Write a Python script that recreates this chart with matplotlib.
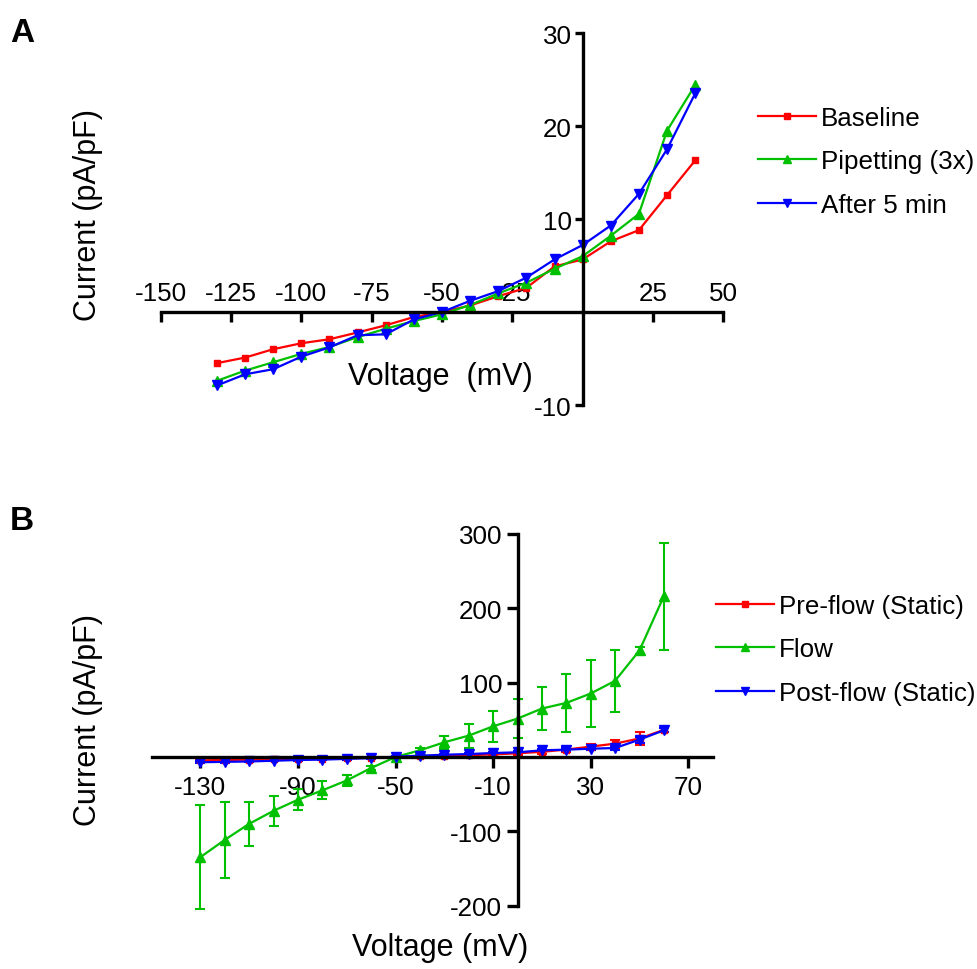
import matplotlib
matplotlib.use("Agg")
import matplotlib.pyplot as plt
from matplotlib.lines import Line2D

plt.rcParams["font.family"] = ["Liberation Sans", "DejaVu Sans"]
plt.rcParams["axes.unicode_minus"] = False

# ---------------- Panel A: I-V curves, single recordings ----------------
volt_a = [-130, -120, -110, -100, -90, -80, -70, -60, -50, -40,
          -30, -20, -10, 0, 10, 20, 30, 40]
baseline = [-5.5, -4.9, -4.0, -3.36, -2.93, -2.2, -1.43, -0.54, 0.0, 0.7,
            1.7, 2.6, 4.9, 5.65, 7.6, 8.8, 12.56, 16.3]
pipetting = [-7.4, -6.3, -5.4, -4.5, -3.76, -2.7, -1.8, -0.97, -0.25, 0.75,
             2.0, 3.15, 4.65, 6.0, 8.2, 10.55, 19.5, 24.4]
after_5min = [-7.9, -6.7, -6.15, -4.8, -3.8, -2.5, -2.4, -0.8, 0.0, 1.2,
              2.25, 3.7, 5.65, 7.2, 9.3, 12.7, 17.5, 23.5]
xticks_a = [-150, -125, -100, -75, -50, -25, 25, 50]
yticks_a = [-10, 10, 20, 30]

# ---------------- Panel B: mean I-V curves with SEM ----------------
volt_b = [-130, -120, -110, -100, -90, -80, -70, -60, -50, -40,
          -30, -20, -10, 0, 10, 20, 30, 40, 50, 60]
pre_mean = [-4.5, -4.0, -3.5, -3.0, -2.5, -2.0, -1.5, -0.8, 0.0, 0.8,
            1.5, 2.5, 3.5, 5.0, 7.0, 10.0, 14.0, 18.0, 25.0, 36.5]
pre_err = [1.5, 1.5, 1.2, 1.2, 1.0, 1.0, 1.0, 1.0, 1.0, 1.0,
           1.0, 1.5, 1.5, 2.0, 2.5, 3.0, 4.0, 5.5, 8.5, 3.0]
flow_mean = [-134.8, -111.5, -89.9, -72.4, -57.5, -44.9, -31.5, -14.8, 0.0, 9.0,
             19.8, 28.8, 41.3, 51.7, 65.2, 72.8, 85.4, 102.5, 143.4, 216.5]
flow_err = [70, 51, 30, 20, 14, 12, 7, 3, 2, 3,
            9, 16, 21, 26, 29, 39, 45, 42, 5, 72]
post_mean = [-7.0, -6.5, -6.0, -5.0, -4.0, -3.5, -2.5, -1.5, 0.5, 1.8,
             3.1, 4.0, 5.4, 6.3, 9.0, 9.9, 11.2, 12.1, 23.4, 36.0]
post_err = [1.0, 1.0, 1.0, 1.0, 1.0, 1.0, 1.0, 1.0, 1.0, 1.0,
            1.0, 1.0, 1.5, 1.5, 1.5, 2.0, 2.0, 2.5, 4.0, 3.0]
xticks_b = [-130, -90, -50, -10, 30, 70]
yticks_b = [-200, -100, 100, 200, 300]

RED = "#FF0000"
GREEN = "#00C000"
BLUE = "#0000FF"
AX_LW = 2.4
LINE_LW = 1.6
FS_TICK = 18.7
FS_LABEL = 22

fig = plt.figure(figsize=(9.77, 9.70), dpi=100)
axA = fig.add_axes([160.7 / 977, 1 - 406 / 970, (723.3 - 160.7) / 977, (406 - 34) / 970])
axB = fig.add_axes([151.5 / 977, 1 - 906.7 / 970, (712.7 - 151.5) / 977, (906.7 - 535) / 970])


def cross_axes(ax):
    """Spines crossing at the origin, Prism style."""
    ax.patch.set_visible(False)
    for side in ("left", "bottom"):
        ax.spines[side].set_position(("data", 0))
        ax.spines[side].set_linewidth(AX_LW)
        ax.spines[side].set_capstyle("projecting")
    ax.spines["top"].set_position(("data", 0))
    ax.spines["top"].set_visible(False)
    ax.spines["right"].set_visible(False)


legend_kw = dict(bbox_transform=fig.transFigure, frameon=False, fontsize=FS_TICK,
                 handlelength=2.25, handletextpad=0.18, labelspacing=0.75,
                 borderpad=0, borderaxespad=0, markerscale=0.85, loc="upper left")

# ---- Panel A ----
cross_axes(axA)
axA.plot(volt_a, baseline, color=RED, lw=LINE_LW, marker="s", ms=5, label="Baseline", clip_on=False)
axA.plot(volt_a, pipetting, color=GREEN, lw=LINE_LW, marker="^", ms=6.5, label="Pipetting (3x)", clip_on=False)
axA.plot(volt_a, after_5min, color=BLUE, lw=LINE_LW, marker="v", ms=6.5, label="After 5 min", clip_on=False)
axA.set_xlim(-150, 50)
axA.set_ylim(-10, 30)
axA.set_xticks(xticks_a)
axA.set_xticklabels([str(v) for v in xticks_a])
axA.set_yticks(yticks_a)
axA.tick_params(axis="x", bottom=True, top=False, labelbottom=False, labeltop=True,
                direction="out", length=7.5, width=AX_LW, pad=-2.5, labelsize=FS_TICK)
axA.tick_params(axis="y", direction="out", length=5.5, width=AX_LW, pad=2.5, labelsize=FS_TICK)
axA.set_xlabel("Voltage  (mV)", fontsize=FS_LABEL, va="center")
axA.xaxis.set_label_coords((440 - 160.7) / 562.6, (406 - 377) / 372)
axA.set_ylabel("Current (pA/pF)", fontsize=FS_LABEL, va="center")
axA.yaxis.set_label_coords((88 - 160.7) / 562.6, (406 - 215) / 372)
axA.legend(bbox_to_anchor=(758 / 977, 1 - 107 / 970), **legend_kw)

# ---- Panel B ----
cross_axes(axB)
eb_kw = dict(lw=LINE_LW, capsize=3.6, capthick=1.5, elinewidth=1.5, clip_on=False)
for mean, err, col, mk, ms, lab in (
        (pre_mean, pre_err, RED, "s", 5, "Pre-flow (Static)"),
        (flow_mean, flow_err, GREEN, "^", 6.5, "Flow"),
        (post_mean, post_err, BLUE, "v", 6.5, "Post-flow (Static)")):
    ln, caps, bars = axB.errorbar(volt_b, mean, yerr=err, color=col, marker=mk, ms=ms,
                                  label=lab, **eb_kw)
    for c in caps:
        c.set_clip_on(False)
    for b in bars:
        b.set_clip_on(False)
axB.set_xlim(-150, 80)
axB.set_ylim(-200, 300)
axB.set_xticks(xticks_b)
axB.set_yticks(yticks_b)
axB.tick_params(axis="x", direction="out", length=8, width=AX_LW, pad=5, labelsize=FS_TICK)
axB.tick_params(axis="y", direction="out", length=8, width=AX_LW, pad=3, labelsize=FS_TICK)
axB.set_xlabel("Voltage (mV)", fontsize=FS_LABEL, va="center")
axB.xaxis.set_label_coords((440 - 151.5) / 561.2, (906.7 - 948) / 371.7)
axB.set_ylabel("Current (pA/pF)", fontsize=FS_LABEL, va="center")
axB.yaxis.set_label_coords((88 - 151.5) / 561.2, (906.7 - 720) / 371.7)
hB, lB = axB.get_legend_handles_labels()
hB = [Line2D([], [], color=h[0].get_color(), marker=h[0].get_marker(),
             ms=h[0].get_markersize(), lw=LINE_LW) for h in hB]
axB.legend(hB, lB, bbox_to_anchor=(716 / 977, 1 - 595 / 970), **legend_kw)

# panel letters
fig.text(22 / 977, 1 - 33 / 970, "A", fontsize=24, fontweight="bold", ha="center", va="center")
fig.text(22 / 977, 1 - 522 / 970, "B", fontsize=24, fontweight="bold", ha="center", va="center")

fig.savefig("out.png", dpi=100)
